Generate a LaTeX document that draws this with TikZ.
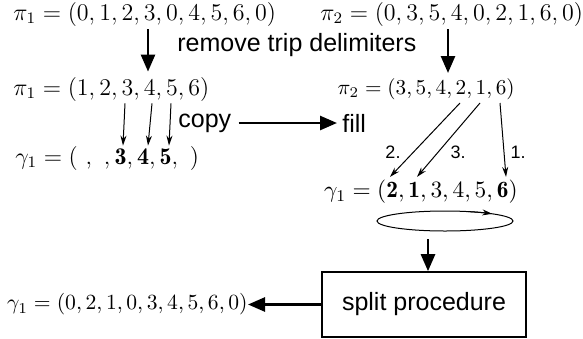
\RequirePackage{fix-cm}
\documentclass[tikz,border=0pt]{standalone}
\usepackage{amsmath}
\usepackage{fontspec}
\newfontfamily\arialfont{Liberation Sans}
\usetikzlibrary{arrows.meta,calc}

\begin{document}
\begin{tikzpicture}[x=0.5pt,y=-0.5pt,
  eq/.style={inner sep=0pt,anchor=west,font=\fontsize{12}{14}\selectfont},
  lbl/.style={inner sep=0pt,font=\arialfont\fontsize{12.5}{15}\selectfont},
  num/.style={inner sep=0pt,font=\arialfont\fontsize{9}{11}\selectfont},
  big/.style={line width=1.3pt,-{Triangle[length=8.5pt,width=7pt]}},
  cparrow/.style={line width=0.5pt,-{Stealth[length=5pt,width=3pt]}}]
\useasboundingbox (0,0) rectangle (583,338);

\node[eq] (p1a) at (13,14) {$\pi_1=(0,1,2,3,0,4,5,6,0)$};
\node[eq] (p2a) at (320,14) {$\pi_2=(0,3,5,4,0,2,1,6,0)$};
\node[lbl,anchor=west] (rm) at (177,45) {remove trip delimiters};
\node[eq] (p1b) at (13,89) {$\pi_1=(1,2,3,4,5,6)$};
\node[eq,anchor=east,font=\fontsize{10.6}{13}\selectfont] (p2b) at (515,89) {$\pi_2=(3,5,4,2,1,6)$};
\node[lbl,anchor=west] (cp) at (178,123) {copy};
\node[lbl,anchor=west] (fl) at (342,123) {fill};
\node[eq] (g1a) at (15,158) {$\gamma_1=(\ ,\ ,\mathbf{3},\mathbf{4},\mathbf{5},\ )$};
\node[eq,anchor=east,font=\fontsize{11.7}{14}\selectfont] (g1b) at (518,192) {$\gamma_1=(\mathbf{2},\mathbf{1},3,4,5,\mathbf{6})$};
\node[num] (n2) at (393,152) {2.};
\node[num] (n3) at (458,152) {3.};
\node[num] (n1) at (518,152) {1.};
\node[lbl,draw,line width=0.8pt,minimum width=102pt,minimum height=32.5pt] (sp) at (424,304.5) {split procedure};
\node[eq,anchor=east,font=\fontsize{10.8}{13}\selectfont] (g1c) at (248,304.5) {$\gamma_1=(0,2,1,0,3,4,5,6,0)$};
\coordinate (dn) at (428,239);

\draw[big] ($(p1a.south west)+(135,3)$) -- ($(p1b.north west)+(135,-5)$);
\draw[big] ($(p2a.south west)+(128,3)$) -- ($(p2b.north east)+(-67,-5)$);
\draw[cparrow] ($(p1b.south west)+(112,2)$) -- ($(g1a.north west)+(108,0)$);
\draw[cparrow] ($(p1b.south west)+(139,2)$) -- ($(g1a.north west)+(133,0)$);
\draw[cparrow] ($(p1b.south west)+(158,2)$) -- ($(g1a.north west)+(154,0)$);
\draw[big,shorten <=3.5pt,shorten >=2.5pt] (cp) -- (fl);
\draw[cparrow] ($(p2b.south east)+(-55,3)$) -- ($(g1b.north east)+(-128,-3)$);
\draw[cparrow] ($(p2b.south east)+(-35,3)$) -- ($(g1b.north east)+(-101,-3)$);
\draw[cparrow] ($(p2b.south east)+(-15,3)$) -- ($(g1b.north east)+(-12,-3)$);
\draw[line width=0.5pt] (445,221) ellipse [x radius=68,y radius=10];
\draw[cparrow] (445,221) ++(-70:68 and 10) arc[start angle=-70,end angle=-46,x radius=68,y radius=10];
\draw[big] (dn) -- (dn |- sp.north);
\draw[big] (sp) -- (g1c);
\end{tikzpicture}
\end{document}
